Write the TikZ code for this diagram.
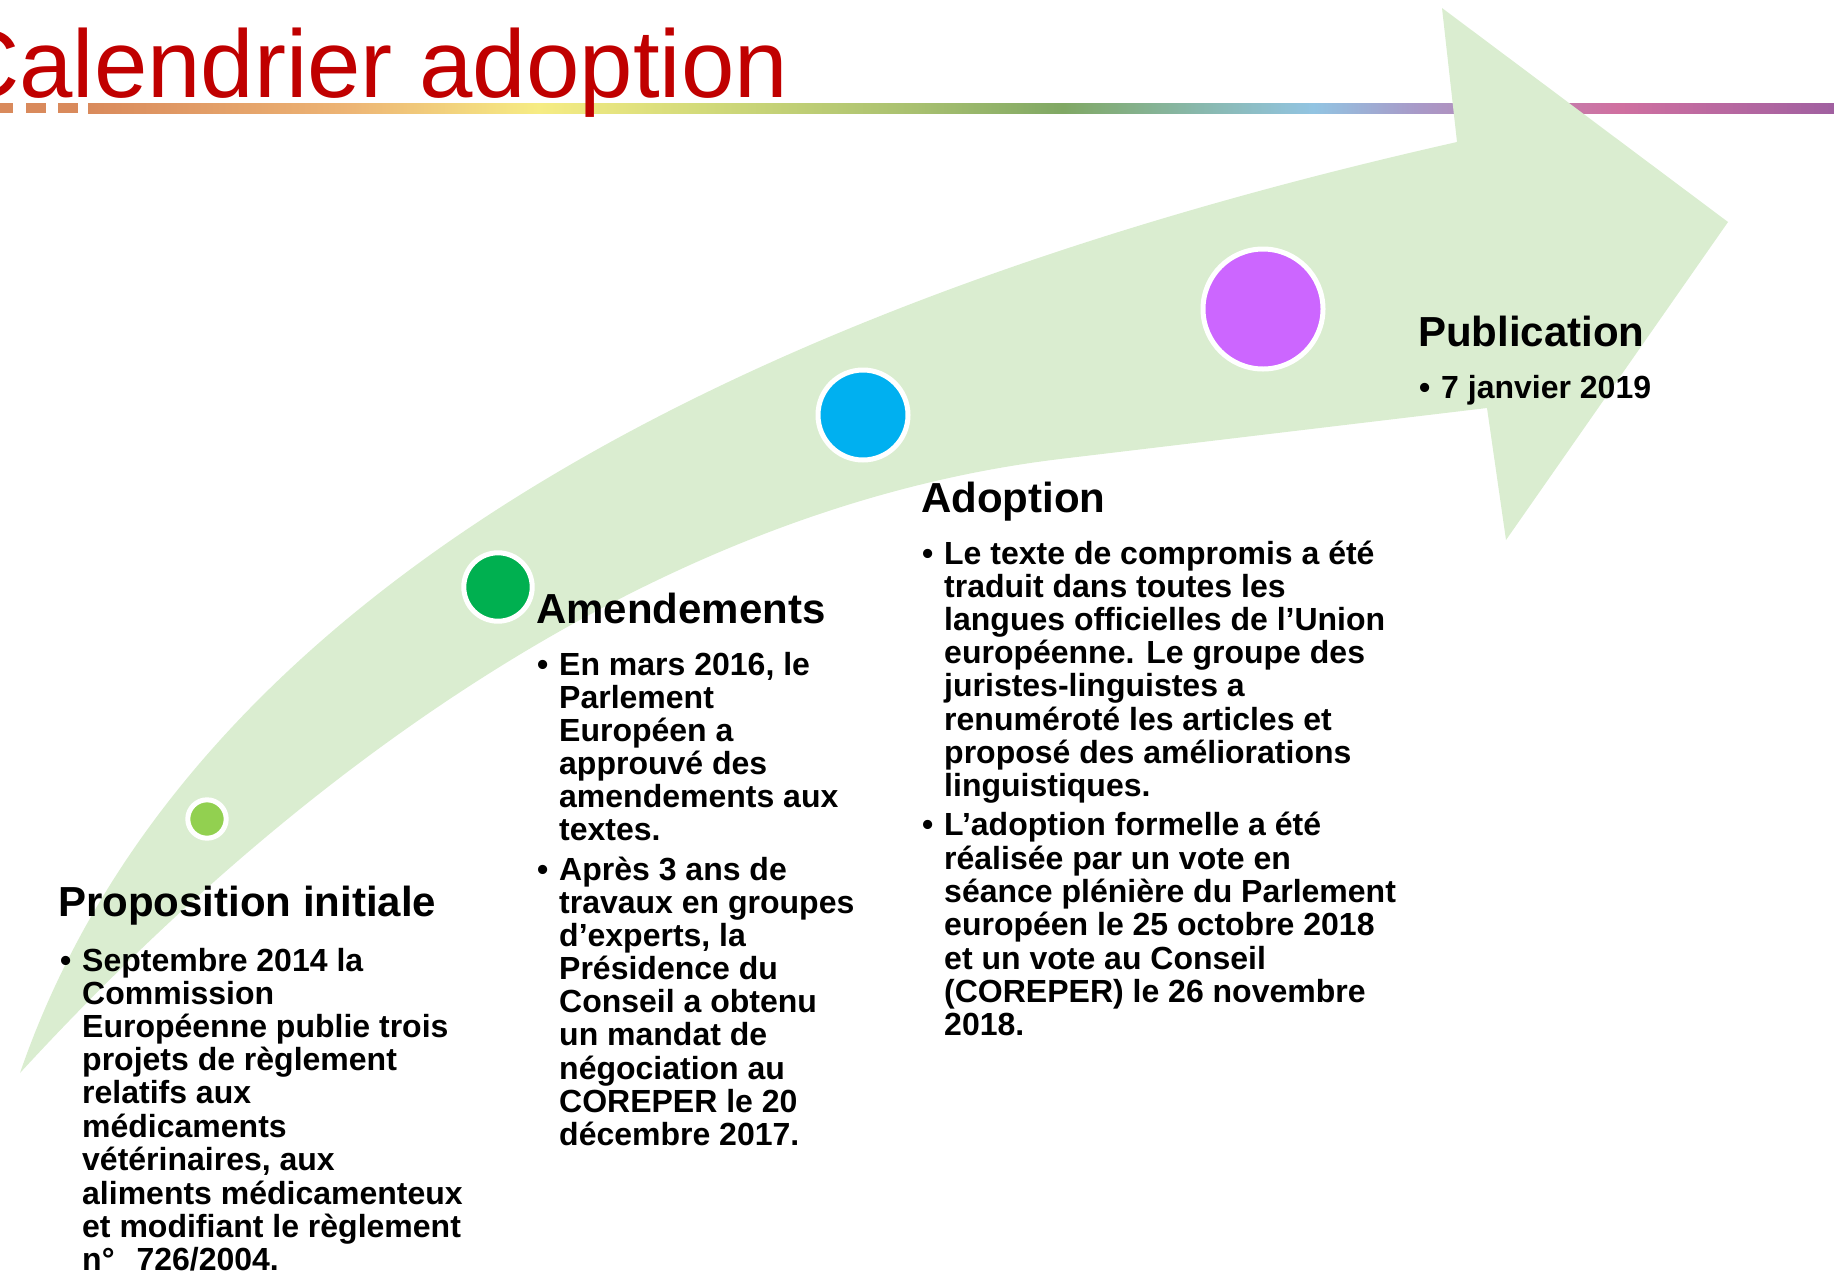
\documentclass[tikz,border=0pt]{standalone}
\usepackage{fontspec}
\setmainfont{Liberation Sans}
\definecolor{arrowfill}{HTML}{DAEDD0}
\definecolor{titlered}{HTML}{C00000}
\definecolor{dotA}{HTML}{92D050}
\definecolor{dotB}{HTML}{00B050}
\definecolor{dotC}{HTML}{00B0F0}
\definecolor{dotD}{HTML}{CC66FF}
\definecolor{lnA}{HTML}{D98A5C}
\definecolor{lnB}{HTML}{EDB575}
\definecolor{lnC}{HTML}{F6EC84}
\definecolor{lnD}{HTML}{D2DA7A}
\definecolor{lnE}{HTML}{A8C070}
\definecolor{lnF}{HTML}{80A864}
\definecolor{lnG}{HTML}{88B8AC}
\definecolor{lnH}{HTML}{92C4E2}
\definecolor{lnI}{HTML}{A89AC8}
\definecolor{lnJ}{HTML}{D070A0}
\definecolor{lnK}{HTML}{A060A0}
\pgfdeclarehorizontalshading{rainbowline}{100bp}{color(0bp)=(lnA); color(25bp)=(lnA); color(32.5bp)=(lnB); color(37.9bp)=(lnC); color(42.6bp)=(lnD); color(48.7bp)=(lnE); color(52.9bp)=(lnF); color(56.8bp)=(lnG); color(60.1bp)=(lnH); color(63bp)=(lnI); color(68.8bp)=(lnJ); color(75bp)=(lnK); color(100bp)=(lnK)}
\newcommand{\mybul}{\makebox[22pt][l]{\textbullet}}
\tikzset{
  dot/.style={circle, draw=white, line width=5pt, inner sep=0pt},
  head/.style={anchor=base west, inner sep=0pt, font=\fontsize{42}{46}\selectfont\bfseries},
  body/.style={anchor=base west, inner sep=0pt, font=\fontsize{32}{33}\selectfont\bfseries},
}
\begin{document}
\begin{tikzpicture}[x=1pt,y=-1pt]
\useasboundingbox (0,0) rectangle (1834,1275);
% decorative line
\fill[lnA] (0,103) rectangle (13,113);
\fill[lnA] (26,103) rectangle (46,113);
\fill[lnA] (58,103) rectangle (78,113);
\shade[shading=rainbowline] (88,103) rectangle (1834,113);
% title
\node[anchor=base west, inner sep=0pt, text=titlered, font=\fontsize{96}{100}\selectfont] (title) at (-50,97) {Calendrier adoption};
% big arrow
\fill[arrowfill] (20,1073) .. controls (199,553) and (823,285) .. (1457,142)
  -- (1442,8) -- (1728,222) -- (1506,540) -- (1487,408) -- (1060,459)
  .. controls (663,507) and (304,764) .. (20,1073) -- cycle;
% circles
\node[dot, fill=dotA, minimum size=38.4pt] (c1) at (207,819) {};
\node[dot, fill=dotB, minimum size=68.4pt] (c2) at (498,587) {};
\node[dot, fill=dotC, minimum size=90pt] (c3) at (863,415) {};
\node[dot, fill=dotD, minimum size=120pt] (c4) at (1263,309) {};
% headings
\node[head] (h1) at (58,916) {Proposition initiale};
\node[head] (h2) at (536,623) {Amendements};
\node[head] (h3) at (921,512) {Adoption};
\node[head] (h4) at (1418,346) {Publication};
% bodies
\node[body] (b1) at (60,971) {\begin{tabular}[t]{@{}l@{}l@{}}
\mybul & Septembre 2014 la\\
 & Commission\\
 & Européenne publie trois\\
 & projets de règlement\\
 & relatifs aux\\
 & médicaments\\
 & vétérinaires, aux\\
 & aliments médicamenteux\\
 & et modifiant le règlement\\
 & n°\hspace{22pt}726/2004.
\end{tabular}};
\node[body] (b2) at (537,675) {\begin{tabular}[t]{@{}l@{}l@{}}
\mybul & En mars 2016, le\\
 & Parlement\\
 & Européen a\\
 & approuvé des\\
 & amendements aux\\
 & textes.\\[6pt]
\mybul & Après 3 ans de\\
 & travaux en groupes\\
 & d’experts, la\\
 & Présidence du\\
 & Conseil a obtenu\\
 & un mandat de\\
 & négociation au\\
 & COREPER le 20\\
 & décembre 2017.
\end{tabular}};
\node[body] (b3) at (922,564) {\begin{tabular}[t]{@{}l@{}l@{}}
\mybul & Le texte de compromis a été\\
 & traduit dans toutes les\\
 & langues officielles de l’Union\\
 & européenne. Le groupe des\\
 & juristes-linguistes a\\
 & renuméroté les articles et\\
 & proposé des améliorations\\
 & linguistiques.\\[6pt]
\mybul & L’adoption formelle a été\\
 & réalisée par un vote en\\
 & séance plénière du Parlement\\
 & européen le 25 octobre 2018\\
 & et un vote au Conseil\\
 & (COREPER) le 26 novembre\\
 & 2018.
\end{tabular}};
\node[body] (b4) at (1419,398) {\begin{tabular}[t]{@{}l@{}l@{}}
\mybul & 7 janvier 2019
\end{tabular}};
\end{tikzpicture}
\end{document}
